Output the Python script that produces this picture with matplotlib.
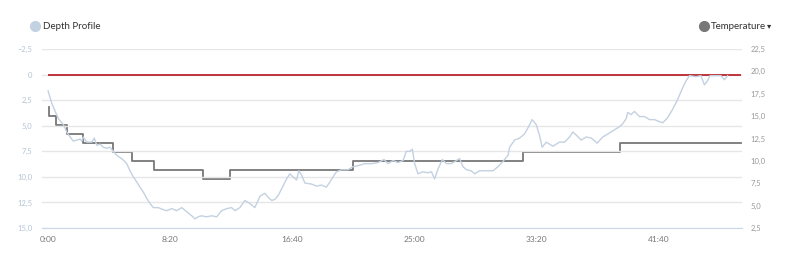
import matplotlib
matplotlib.use("Agg")
import matplotlib.pyplot as plt
from matplotlib.lines import Line2D
from matplotlib.ticker import FuncFormatter

plt.rcParams['font.family'] = ['Lato', 'DejaVu Sans']

# depth profile (seconds, metres)
depth_time = [0, 15, 29, 42, 63, 76, 90, 103, 117, 131, 138, 144, 158, 179, 189, 199,
              213, 226, 240, 253, 267, 281, 301, 322, 335, 349, 363, 376, 390, 404, 417,
              431, 451, 471, 485, 506, 526, 547, 567, 588, 601, 614, 628, 649, 669, 690,
              710, 731, 751, 765, 785, 805, 826, 846, 867, 887, 901, 915, 928, 942, 955,
              976, 989, 1003, 1017, 1026, 1037, 1051, 1078, 1099, 1119, 1139, 1153, 1166,
              1180, 1201, 1228, 1248, 1269, 1296, 1323, 1350, 1375, 1391, 1412, 1432, 1453,
              1466, 1480, 1491, 1500, 1514, 1534, 1555, 1569, 1582, 1596, 1614, 1630, 1650,
              1671, 1684, 1698, 1712, 1732, 1746, 1766, 1794, 1821, 1841, 1861, 1882, 1889,
              1909, 1930, 1950, 1964, 1981, 1998, 2011, 2022, 2039, 2066, 2093, 2114, 2134,
              2148, 2161, 2182, 2202, 2223, 2247, 2270, 2291, 2318, 2338, 2352, 2366, 2372,
              2386, 2400, 2420, 2441, 2461, 2482, 2502, 2516, 2536, 2556, 2577, 2597, 2611,
              2625, 2652, 2672, 2686, 2699, 2709, 2734, 2754, 2768, 2781]
depth = [1.6, 2.8, 3.6, 4.3, 4.9, 5.6, 6.1, 6.5, 6.4, 6.3, 6.5, 6.1, 6.6, 6.6, 6.2, 6.9,
         6.8, 7.1, 7.2, 7.1, 7.5, 7.9, 8.2, 8.7, 9.4, 10.0, 10.5, 11.0, 11.5, 12.1, 12.6,
         13.0, 13.0, 13.2, 13.3, 13.1, 13.3, 13.0, 13.4, 13.8, 14.1, 13.9, 13.8, 13.9, 13.8, 13.9,
         13.3, 13.1, 13.0, 13.3, 13.0, 12.3, 12.6, 13.0, 11.9, 11.6, 12.0, 12.3, 12.2, 11.8, 11.2,
         10.2, 9.7, 10.0, 10.3, 9.4, 9.8, 10.6, 10.7, 10.9, 10.8, 11.0, 10.5, 10.0,
         9.5, 9.3, 9.3, 9.0, 8.9, 8.7, 8.7, 8.6, 8.3, 8.7, 8.4, 8.6, 8.4,
         7.5, 7.5, 7.3, 8.7, 9.7, 9.5, 9.6, 9.5, 10.2, 9.2, 8.3, 8.7, 8.7,
         8.4, 8.2, 9.0, 9.3, 9.4, 9.7, 9.4, 9.4, 9.4, 9.0, 8.5, 7.9, 7.1,
         6.4, 6.2, 5.8, 5.2, 4.4, 4.9, 5.9, 7.1, 6.6, 7.0, 6.6, 6.6, 6.1,
         5.6, 5.9, 6.4, 6.1, 6.2, 6.7, 6.1, 5.8, 5.4, 5.1, 4.8, 4.3, 3.7,
         3.9, 3.6, 4.1, 4.1, 4.4, 4.4, 4.6, 4.7, 4.2, 3.4, 2.4, 1.3, 0.6,
         0.1, 0.2, 0.1, 1.0, 0.6, 0.1, 0.1, 0.1, 0.5, 0.1]

# water temperature (seconds, degrees)
temp_time = [4, 5, 33, 76, 144, 267, 345, 435, 632, 744, 1246, 1943, 2342, 2837]
temp = [16, 15, 14, 13, 12, 11, 10, 9, 8, 9, 10, 11, 12, 12]

depth_ticks = [-2.5, 0, 2.5, 5, 7.5, 10, 12.5, 15]
temp_ticks = [2.5, 5, 7.5, 10, 12.5, 15, 17.5, 20, 22.5]
time_ticks = [0, 500, 1000, 1500, 2000, 2500]


def comma(v, pos=None):
    if v == 0:
        return "0"
    return f"{v:.1f}".replace(".", ",").replace("-", "\u2212")


def mmss(v, pos=None):
    v = int(round(v))
    return f"{v // 60}:{v % 60:02d}"


fig = plt.figure(figsize=(8, 2.68), dpi=100)
ax = fig.add_axes([0.0525, 0.149, 0.875, 0.668])
ax2 = ax.twinx()

# depth axis
ax.set_ylim(15, -2.5)
ax.set_yticks(depth_ticks)
ax.yaxis.set_major_formatter(FuncFormatter(comma))
ax.set_xlim(-25, 2840)
ax.set_xticks(time_ticks)
ax.xaxis.set_major_formatter(FuncFormatter(mmss))
ax.grid(axis='y', color='#e6e6e6', linewidth=1)
ax.set_axisbelow(True)
for s in ax.spines.values():
    s.set_visible(False)
ax.spines['bottom'].set_visible(True)
ax.spines['bottom'].set_color('#ccd6eb')
ax.tick_params(axis='y', length=0, labelsize=5.5, labelcolor='#b4c4d6', pad=7)
ax.tick_params(axis='x', length=0, labelsize=6, labelcolor='#777777', pad=6)

# temperature axis
ax2.set_ylim(2.5, 22.5)
ax2.set_yticks(temp_ticks)
ax2.yaxis.set_major_formatter(FuncFormatter(comma))
for s in ax2.spines.values():
    s.set_visible(False)
ax2.tick_params(axis='y', length=0, labelsize=5.5, labelcolor='#999999', pad=6)

ax2.plot(temp_time, temp, drawstyle='steps-post', color='#777777', lw=1.3, zorder=2)
ax.hlines(0, 0, temp_time[-1], color='#b8262c', lw=1.3, zorder=3)
ax.plot(depth_time, depth, color='#c3d1e1', lw=1.0, zorder=4)
ax.set_zorder(ax2.get_zorder() + 1)
ax.patch.set_visible(False)

# legend
fig.add_artist(Line2D([0.044], [0.902], marker='o', markersize=7, color='#c3d1e1',
                      transform=fig.transFigure, linestyle='none'))
fig.text(0.0535, 0.902, "Depth Profile", fontsize=7, color='#333333', va='center')
fig.add_artist(Line2D([0.880], [0.902], marker='o', markersize=7, color='#777777',
                      transform=fig.transFigure, linestyle='none'))
fig.text(0.8885, 0.902, "Temperature", fontsize=7, color='#333333', va='center')
fig.text(0.9585, 0.906, "\u25be", fontsize=6, color='#333333', va='center',
         family=['DejaVu Sans'])

fig.savefig("out.png", dpi=100)
